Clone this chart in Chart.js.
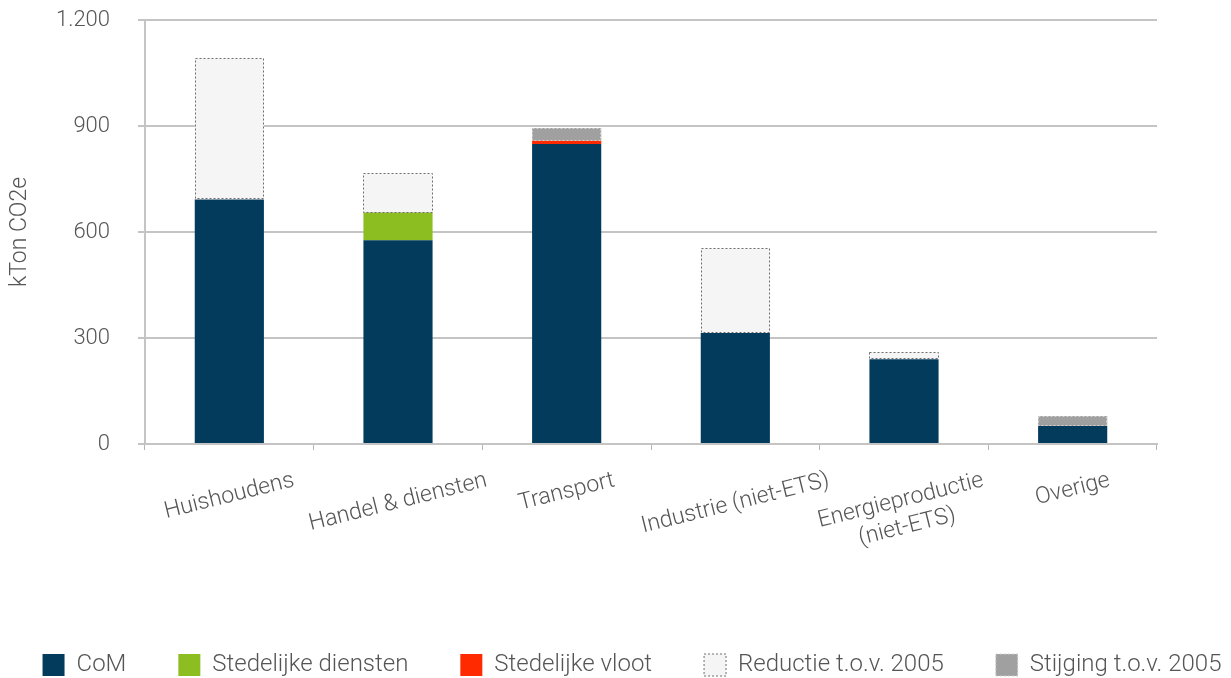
<!DOCTYPE html>
<html>
<head>
<meta charset="utf-8">
<script src="https://cdn.jsdelivr.net/npm/chart.js@4.4.0/dist/chart.umd.min.js"></script>
<style>
html, body { margin: 0; padding: 0; background: #fff; }
#wrap { width: 1231px; height: 678px; }
</style>
</head>
<body>
<div id="wrap"><canvas id="emissieChart"></canvas></div>
<script>
var categories = ["Huishoudens", "Handel & diensten", "Transport", "Industrie (niet-ETS)", ["Energieproductie", "(niet-ETS)"], "Overige"];
var com = [692, 577, 849, 314, 240, 51];
var stedelijkeDiensten = [null, 78, null, null, null, null];
var stedelijkeVloot = [null, null, 9, null, null, null];
var reductie = [400, 111, null, 241, 20, null];
var stijging = [null, null, 36, null, null, 28];
var yTicks = [0, 300, 600, 900, 1200];

var textColor = "#555555";
var fontFamily = "Roboto, 'Liberation Sans', sans-serif";

// dotted outline for the reductie / stijging blocks
var dottedBorders = {
    id: "dottedBorders",
    afterDatasetsDraw: function(chart) {
        var ctx = chart.ctx;
        chart.data.datasets.forEach(function(ds, i) {
            if (!ds.dotColor) return;
            var meta = chart.getDatasetMeta(i);
            meta.data.forEach(function(bar, j) {
                if (ds.data[j] == null) return;
                var p = bar.getProps(["x", "y", "base", "width"], true);
                var left = Math.round(p.x - p.width / 2) + 0.5;
                var right = Math.round(p.x + p.width / 2) - 0.5;
                var top = Math.round(Math.min(p.y, p.base)) + 0.5;
                var bottom = Math.round(Math.max(p.y, p.base)) - 0.5;
                ctx.save();
                ctx.strokeStyle = ds.dotColor;
                ctx.lineWidth = 1;
                ctx.setLineDash([2, 2]);
                ctx.strokeRect(left, top, right - left, bottom - top);
                ctx.restore();
            });
        });
    }
};

// slanted category labels, centred under each bar
var slantedLabels = {
    id: "slantedLabels",
    afterDraw: function(chart) {
        var ctx = chart.ctx;
        var xs = chart.scales.x;
        var size = 23, lineH = 27;
        var a = 14 * Math.PI / 180;
        ctx.save();
        ctx.font = "300 " + size + "px " + fontFamily;
        ctx.fillStyle = textColor;
        ctx.textAlign = "center";
        ctx.textBaseline = "middle";
        chart.data.labels.forEach(function(lab, i) {
            var lines = Array.isArray(lab) ? lab : [lab];
            var w = 0;
            lines.forEach(function(t) { w = Math.max(w, ctx.measureText(t).width); });
            var h = (lines.length - 1) * lineH + size * 0.75;
            var cy = xs.top + 28 + (w * Math.sin(a) + h * Math.cos(a)) / 2;
            ctx.save();
            ctx.translate(xs.getPixelForTick(i), cy);
            ctx.rotate(-a);
            lines.forEach(function(t, k) {
                ctx.fillText(t, 0, (k - (lines.length - 1) / 2) * lineH);
            });
            ctx.restore();
        });
        ctx.restore();
    }
};

var legendBoxes = function(chart) {
    return chart.data.datasets.map(function(ds, i) {
        return {
            text: ds.label,
            fillStyle: ds.backgroundColor,
            strokeStyle: ds.dotColor || ds.backgroundColor,
            lineWidth: ds.dotColor ? 1 : 0,
            lineDash: ds.dotColor ? [2, 2] : [],
            fontColor: textColor,
            hidden: false,
            datasetIndex: i
        };
    });
};

var emissieChart = new Chart(document.getElementById("emissieChart"), {
    type: "bar",
    data: {
        labels: categories,
        datasets: [
            { label: "CoM", data: com, backgroundColor: "#023b5c" },
            { label: "Stedelijke diensten", data: stedelijkeDiensten, backgroundColor: "#8cbe22" },
            { label: "Stedelijke vloot", data: stedelijkeVloot, backgroundColor: "#ff2a00" },
            { label: "Reductie t.o.v. 2005", data: reductie, backgroundColor: "#f5f5f5", dotColor: "#6e6e6e" },
            { label: "Stijging t.o.v. 2005", data: stijging, backgroundColor: "#a0a0a0", dotColor: "#d2d2d2" }
        ]
    },
    options: {
        responsive: true,
        maintainAspectRatio: false,
        animation: false,
        barPercentage: 0.41,
        categoryPercentage: 1,
        // wide negative sides so the legend fits on one row like the original
        layout: { padding: { left: -14, right: -47, top: 20, bottom: -9 } },
        plugins: {
            tooltip: { enabled: false },
            legend: {
                position: "bottom",
                labels: {
                    generateLabels: legendBoxes,
                    boxWidth: 22,
                    boxHeight: 22,
                    padding: 52,
                    color: textColor,
                    font: { family: fontFamily, size: 24, weight: "300" }
                }
            }
        },
        scales: {
            x: {
                stacked: true,
                grid: { drawOnChartArea: false, offset: true, tickLength: 6, color: "#b4b4b4", lineWidth: 1 },
                border: { color: "#c4c4c4", width: 2 },
                ticks: { display: false },
                afterFit: function(scale) { scale.height = 157; }
            },
            y: {
                stacked: true,
                min: yTicks[0],
                max: yTicks[yTicks.length - 1],
                grid: { color: "#c4c4c4", lineWidth: 2, tickLength: 7 },
                border: { color: "#c4c4c4", width: 2 },
                ticks: {
                    stepSize: yTicks[1] - yTicks[0],
                    padding: 28,
                    color: textColor,
                    font: { family: fontFamily, size: 22, weight: "300" },
                    callback: function(v) { return v.toLocaleString("nl-NL"); }
                },
                title: {
                    display: true,
                    text: "kTon CO2e",
                    color: textColor,
                    font: { family: fontFamily, size: 23, weight: "300" },
                    padding: { top: 20, bottom: 0 }
                },
                afterFit: function(scale) {
                    scale.width = 159;
                    scale.paddingTop = 0;
                    scale.paddingBottom = 0;
                }
            },
            // empty right axis, only keeps the plot clear of the right edge
            rightGap: {
                position: "right",
                grid: { display: false },
                border: { display: false },
                ticks: { display: false },
                afterFit: function(scale) { scale.width = 121; }
            }
        }
    },
    plugins: [dottedBorders, slantedLabels]
});
</script>
</body>
</html>
